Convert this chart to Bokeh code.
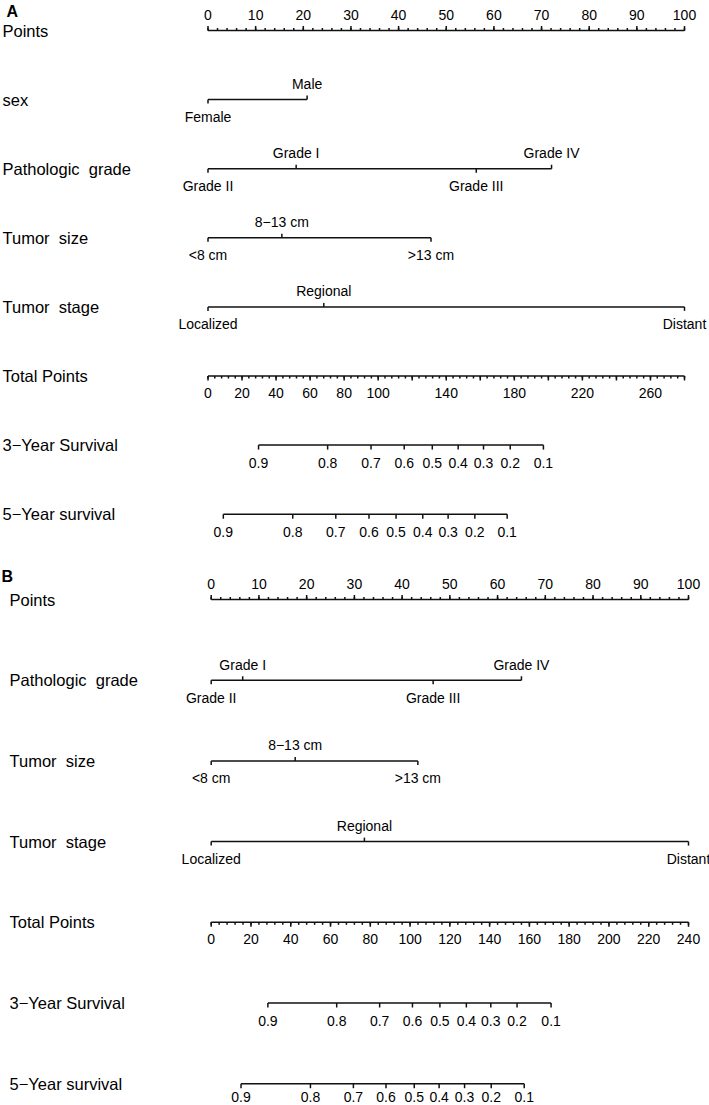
import numpy as np
from bokeh.plotting import figure
from bokeh.models import Range1d, ColumnDataSource
from bokeh.layouts import column
from bokeh.core.properties import value
from bokeh.embed import file_html
from bokeh.resources import INLINE

FONT = "Liberation Sans"

# ---------------- data ----------------
points_major = list(range(0, 101, 10))
points_minor = list(range(0, 101, 2))
surv_labels = ["0.9", "0.8", "0.7", "0.6", "0.5", "0.4", "0.3", "0.2", "0.1"]

# Panel A
a_rows = ["Points", "sex", "Pathologic\u00a0 grade", "Tumor\u00a0 size", "Tumor\u00a0 stage",
          "Total Points", "3\u2212Year Survival", "5\u2212Year survival"]
a_sex_levels = ["Female", "Male"]
a_sex_pts = [0, 20.8]
a_grade_levels = ["Grade II", "Grade I", "Grade III", "Grade IV"]
a_grade_pts = [0, 18.5, 56.3, 72.1]
a_size_levels = ["<8 cm", "8\u221213 cm", ">13 cm"]
a_size_pts = [0, 15.5, 46.8]
a_stage_levels = ["Localized", "Regional", "Distant"]
a_stage_pts = [0, 24.3, 100]
a_total_max = 280
a_total_labels = [0, 20, 40, 60, 80, 100, 140, 180, 220, 260]
a_surv3_total = [29.7, 70.3, 95.8, 115.3, 131.8, 147.0, 161.9, 177.6, 197.1]
a_surv5_total = [9.0, 49.8, 75.1, 94.6, 110.5, 126.2, 141.1, 156.8, 175.8]

# Panel B
b_rows = ["Points", "Pathologic\u00a0 grade", "Tumor\u00a0 size", "Tumor\u00a0 stage",
          "Total Points", "3\u2212Year Survival", "5\u2212Year survival"]
b_grade_levels = ["Grade II", "Grade I", "Grade III", "Grade IV"]
b_grade_pts = [0, 6.6, 46.5, 65.0]
b_size_levels = ["<8 cm", "8\u221213 cm", ">13 cm"]
b_size_pts = [0, 17.6, 43.3]
b_stage_levels = ["Localized", "Regional", "Distant"]
b_stage_pts = [0, 32.1, 100]
b_total_max = 240
b_total_labels = list(range(0, 241, 20))
b_surv3_total = [28.5, 63.1, 84.7, 101.2, 115.0, 128.3, 140.6, 153.8, 170.9]
b_surv5_total = [15.0, 49.9, 71.5, 87.9, 102.1, 114.6, 127.4, 140.8, 157.4]

LINE = "#111111"
LW = 1.5
TICK_FS = "14px"
ROW_FS = "16.5px"
W = 709


def seg(p, x0, y0, x1, y1):
    src = ColumnDataSource(dict(x0=list(x0), y0=list(y0), x1=list(x1), y1=list(y1)))
    p.segment(x0="x0", y0="y0", x1="x1", y1="y1", source=src,
              line_color=LINE, line_width=LW)


def txt(p, xs, ys, texts, yoff, size=TICK_FS, align="center", xoff=0,
        baseline="middle", style="normal"):
    src = ColumnDataSource(dict(x=list(xs), y=list(ys), t=list(texts)))
    p.text(x="x", y="y", text="t", source=src, y_offset=yoff, x_offset=xoff,
           text_align=align, text_baseline=baseline, text_font=value(FONT),
           text_font_size=size, text_color="#000000", text_font_style=style)


def make_panel(letter, letter_pos, label_x, rows, cats, total_max, total_labels,
               surv3, surv5, xr, yr, height, ppr, surv_offs):
    p = figure(width=W, height=height, x_range=Range1d(*xr),
               y_range=Range1d(*yr), output_backend="svg",
               toolbar_location=None, min_border=0,
               x_axis_location=None, y_axis_location=None,
               outline_line_color=None)
    p.grid.visible = False

    ys = [-i for i in range(len(rows))]
    # row labels
    txt(p, [xr[0]] * len(rows), ys, rows, 0, size=ROW_FS, align="left",
        xoff=label_x)
    # panel letter
    txt(p, [xr[0]], [yr[1]], [letter], letter_pos[1], size="16px",
        align="left", xoff=letter_pos[0], baseline="top", style="bold")

    # Points axis (row 0)
    y0 = 0
    seg(p, [0], [y0], [100], [y0])
    seg(p, points_major, [y0] * len(points_major), points_major,
        [y0 + 4.5 / ppr] * len(points_major))
    seg(p, points_minor, [y0] * len(points_minor), points_minor,
        [y0 + 2.5 / ppr] * len(points_minor))
    txt(p, points_major, [y0] * len(points_major),
        [str(v) for v in points_major], -15.5)

    # categorical rows
    for k, (levels, pts) in enumerate(cats):
        y = -(k + 1)
        seg(p, [min(pts)], [y], [max(pts)], [y])
        order = np.argsort(pts)
        side = np.empty(len(pts))
        for r, idx in enumerate(order):
            side[idx] = -1 if r % 2 == 0 else 1   # -1 below, 1 above
        seg(p, pts, [y] * len(pts), pts, [y + s * 4 / ppr for s in side])
        above = [i for i in range(len(pts)) if side[i] > 0]
        below = [i for i in range(len(pts)) if side[i] < 0]
        txt(p, [pts[i] for i in above], [y] * len(above),
            [levels[i] for i in above], -15.5)
        txt(p, [pts[i] for i in below], [y] * len(below),
            [levels[i] for i in below], 17.5)

    # total points axis
    yt = -(len(cats) + 1)
    sc = 100.0 / total_max
    tmaj = list(range(0, total_max + 1, 20))
    tmin = list(range(0, total_max + 1, 4))
    seg(p, [0], [yt], [total_max * sc], [yt])
    seg(p, [v * sc for v in tmaj], [yt] * len(tmaj), [v * sc for v in tmaj],
        [yt - 4.5 / ppr] * len(tmaj))
    seg(p, [v * sc for v in tmin], [yt] * len(tmin), [v * sc for v in tmin],
        [yt - 2.5 / ppr] * len(tmin))
    txt(p, [v * sc for v in total_labels], [yt] * len(total_labels),
        [str(v) for v in total_labels], 17)

    # survival axes
    for j, surv in enumerate([surv3, surv5]):
        y = yt - (j + 1)
        xs = [v * sc for v in surv]
        seg(p, [min(xs)], [y], [max(xs)], [y])
        seg(p, xs, [y] * len(xs), xs, [y - 4.5 / ppr] * len(xs))
        txt(p, xs, [y] * len(xs), surv_labels, surv_offs[j])
    return p


# Panel A geometry: 0 pts at x 207.5, 4.765 px/pt; rows at y 30 + 69.1 i
ppp_a = 4.765
x0_a = 207.5
xr_a = (-x0_a / ppp_a, (W - x0_a) / ppp_a)
ppr_a = 69.1
top_a = 30
h_a = 557
yr_a = (-(h_a - top_a) / ppr_a, top_a / ppr_a)

# Panel B geometry: 0 pts at x 210.7, 4.773 px/pt; rows at y 599 + 80.7 i
ppp_b = 4.773
x0_b = 210.7
xr_b = (-x0_b / ppp_b, (W - x0_b) / ppp_b)
ppr_b = 80.7
h_b = 548
top_b = 599 - h_a
yr_b = (-(h_b - top_b) / ppr_b, top_b / ppr_b)

pA = make_panel("A", (6, 2), 2, a_rows,
                [(a_sex_levels, a_sex_pts), (a_grade_levels, a_grade_pts),
                 (a_size_levels, a_size_pts), (a_stage_levels, a_stage_pts)],
                a_total_max, a_total_labels, a_surv3_total, a_surv5_total,
                xr_a, yr_a, h_a, ppr_a, (18, 18))
pB = make_panel("B", (1, 10), 9, b_rows,
                [(b_grade_levels, b_grade_pts), (b_size_levels, b_size_pts),
                 (b_stage_levels, b_stage_pts)],
                b_total_max, b_total_labels, b_surv3_total, b_surv5_total,
                xr_b, yr_b, h_b, ppr_b, (18, 13))

layout = column(pA, pB, spacing=0)
open("out.html", "w").write(file_html(layout, INLINE))
